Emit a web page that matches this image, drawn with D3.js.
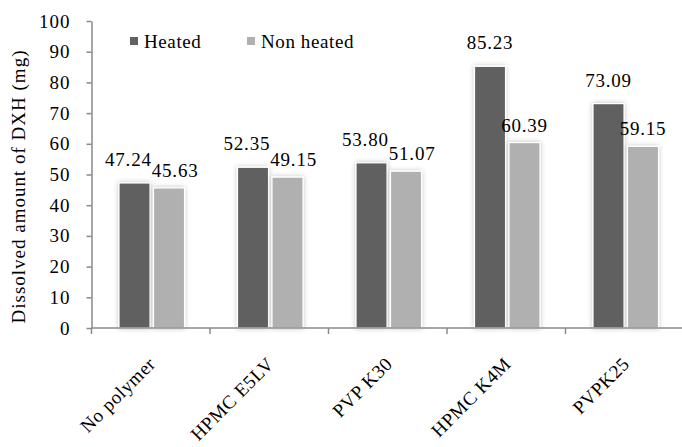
<!DOCTYPE html>
<html>
<head>
<meta charset="utf-8">
<script src="https://cdn.jsdelivr.net/npm/d3@7"></script>
<style>
  html, body { margin: 0; padding: 0; background: #fff; }
  svg { display: block; }
  text { font-family: "Liberation Serif", "Times New Roman", serif; fill: #000; }
</style>
</head>
<body>
<div id="chart"></div>
<script>
// Dissolved amount of DXH per polymer, heated vs non heated
const categories = ["No polymer", "HPMC E5LV", "PVP K30", "HPMC K4M", "PVPK25"];
const seriesNames = ["Heated", "Non heated"];
const heatedValues = [47.24, 52.35, 53.80, 85.23, 73.09];
const nonHeatedValues = [45.63, 49.15, 51.07, 60.39, 59.15];
const yTicks = [0, 10, 20, 30, 40, 50, 60, 70, 80, 90, 100];
const yTitle = "Dissolved amount of DXH (mg)";

const W = 682, H = 447;
const plot = { left: 91.5, right: 684, top: 21, bottom: 328 };
const colors = { "Heated": "#616161", "Non heated": "#b0b0b0" };
const axisColor = "#8a8a8a";
const fontSize = 19;

const rows = categories.map((c, i) => ({
  category: c,
  values: [
    { series: "Heated", value: heatedValues[i] },
    { series: "Non heated", value: nonHeatedValues[i] }
  ]
}));

const svg = d3.select("#chart").append("svg")
  .attr("width", W).attr("height", H);

// soft drop shadow around the bars
const defs = svg.append("defs");
const f = defs.append("filter").attr("id", "barShadow")
  .attr("x", "-40%").attr("y", "-10%").attr("width", "180%").attr("height", "120%");
f.append("feGaussianBlur").attr("in", "SourceAlpha").attr("stdDeviation", 2.8).attr("result", "blur");
f.append("feFlood").attr("flood-color", "#000").attr("flood-opacity", 0.25).attr("result", "col");
f.append("feComposite").attr("in", "col").attr("in2", "blur").attr("operator", "in").attr("result", "shadow");
const merge = f.append("feMerge");
merge.append("feMergeNode").attr("in", "shadow");
merge.append("feMergeNode").attr("in", "SourceGraphic");

const x0 = d3.scaleBand().domain(categories).range([plot.left, plot.right]).padding(0);
const bw = x0.bandwidth();
const x1 = d3.scaleBand().domain(seriesNames).range([bw * 0.232, bw * 0.785]).paddingInner(0.1);
const y = d3.scaleLinear().domain([0, 100]).range([plot.bottom, plot.top]);

// bars
const groups = svg.append("g").selectAll("g.cat").data(rows).join("g")
  .attr("class", "cat")
  .attr("transform", d => `translate(${x0(d.category)},0)`);

groups.selectAll("rect").data(d => d.values).join("rect")
  .attr("x", d => x1(d.series))
  .attr("y", d => y(d.value))
  .attr("width", x1.bandwidth())
  .attr("height", d => y(0) - y(d.value))
  .attr("fill", d => colors[d.series])
  .attr("stroke", "#fff")
  .attr("stroke-width", 1.2)
  .attr("filter", "url(#barShadow)");

// y axis
const yAxis = svg.append("g")
  .attr("transform", `translate(${plot.left},0)`)
  .call(d3.axisLeft(y).tickValues(yTicks).tickSize(5).tickSizeOuter(0).tickPadding(16));
yAxis.select(".domain").attr("stroke", axisColor).attr("stroke-width", 1.5);
yAxis.selectAll(".tick line").attr("stroke", axisColor).attr("stroke-width", 1.5);
yAxis.selectAll(".tick text")
  .attr("font-size", fontSize)
  .attr("letter-spacing", 1)
  .attr("fill", "#000");

// x axis: baseline with tick marks at the category boundaries
const xAxis = svg.append("g");
xAxis.append("line")
  .attr("x1", plot.left).attr("x2", plot.right)
  .attr("y1", y(0)).attr("y2", y(0))
  .attr("stroke", axisColor).attr("stroke-width", 1.5);
const boundaries = categories.map(c => x0(c));
xAxis.selectAll("line.tk").data(boundaries).join("line")
  .attr("class", "tk")
  .attr("x1", d => d).attr("x2", d => d)
  .attr("y1", y(0)).attr("y2", y(0) + 6)
  .attr("stroke", axisColor).attr("stroke-width", 1.5);

// category labels, rotated
xAxis.selectAll("text.cat").data(categories).join("text")
  .attr("class", "cat")
  .attr("transform", c => `translate(${x0(c) + bw / 2 + 6},${y(0) + 37}) rotate(-45)`)
  .attr("text-anchor", "end")
  .attr("font-size", fontSize)
  .attr("letter-spacing", 0.6)
  .text(c => c);

// y axis title
svg.append("text")
  .attr("transform", `translate(25,${(40 + 333) / 2}) rotate(-90)`)
  .attr("text-anchor", "middle")
  .attr("font-size", fontSize)
  .attr("letter-spacing", 1.0)
  .text(yTitle);

// value labels; labels that collide inside a cluster are nudged apart
const labelDy = { "Heated": -17, "Non heated": -11 };
groups.each(function (d) {
  const g = d3.select(this);
  const labels = d.values.map(v => {
    const cx = x1(v.series) + x1.bandwidth() / 2;
    const t = g.append("text")
      .attr("text-anchor", "middle")
      .attr("font-size", fontSize)
      .attr("letter-spacing", 0.8)
      .attr("x", cx)
      .attr("y", y(v.value) + labelDy[v.series])
      .text(v.value.toFixed(2));
    const w = t.node().getComputedTextLength();
    return { t, cx, w, base: y(v.value) + labelDy[v.series] };
  });
  const [a, b] = labels;
  const overlapX = (a.cx + a.w / 2) - (b.cx - b.w / 2);
  const overlapY = Math.abs(a.base - b.base) < fontSize;
  if (overlapX > 0 && overlapY) {
    a.t.attr("x", a.cx - overlapX / 2);
    b.t.attr("x", b.cx + overlapX / 2);
  }
});

// legend
const legend = svg.append("g");
const legendX = [130, 247];
seriesNames.forEach((s, i) => {
  legend.append("rect")
    .attr("x", legendX[i]).attr("y", 37)
    .attr("width", 8).attr("height", 8)
    .attr("fill", colors[s]);
  legend.append("text")
    .attr("x", legendX[i] + 14).attr("y", 48)
    .attr("font-size", fontSize)
    .attr("letter-spacing", 0.6)
    .text(s);
});
</script>
</body>
</html>
